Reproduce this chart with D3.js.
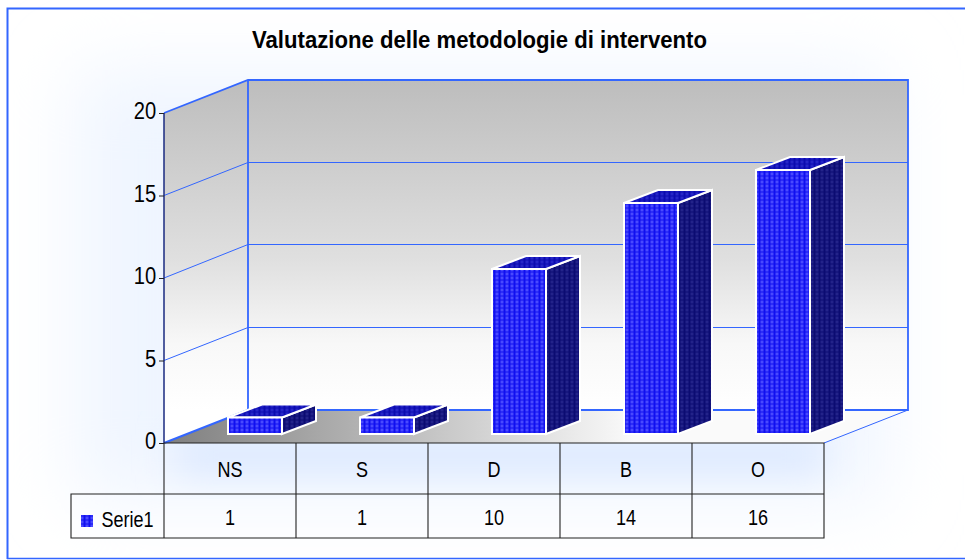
<!DOCTYPE html>
<html><head><meta charset="utf-8">
<script src="https://cdn.jsdelivr.net/npm/d3@7/dist/d3.min.js"></script>
<style>html,body{margin:0;padding:0;background:#fff}svg{display:block}text{font-family:"Liberation Sans",Arial,sans-serif;fill:#000}</style>
</head><body><svg id="c" width="965" height="560"></svg>
<script>
const categories = ["NS","S","D","B","O"];
const values = [1,1,10,14,16];
const seriesName = "Serie1";
const yTicks = [0,5,10,15,20];
const chartTitle = "Valutazione delle metodologie di intervento";

const svg = d3.select("#c");
const defs = svg.append("defs");
const BLUE = "#3366ff";

// layout
const x0=164, x1=824, yBase=443, yTop=113;   // front plane of the plot
const dx=84, dy=-33;                          // wall depth
const barOffX=25, barOffY=-9, barDX=34, barDY=-13; // bar placement in depth
const y = d3.scaleLinear().domain([0,20]).range([yBase,yTop]);
const x = d3.scaleBand().domain(categories).range([x0,x1]);
const barW = 54;

// defs
function blurF(id,sd){
  const b=defs.append("filter").attr("id",id).attr("x","-30%").attr("y","-60%").attr("width","160%").attr("height","220%");
  b.append("feGaussianBlur").attr("stdDeviation",sd);
}
blurF("blurWide",38); blurF("blurNear",18);
function lin(id,x1_,y1_,x2_,y2_,stops){
  const g=defs.append("linearGradient").attr("id",id).attr("gradientUnits","userSpaceOnUse")
    .attr("x1",x1_).attr("y1",y1_).attr("x2",x2_).attr("y2",y2_);
  stops.forEach(s=>g.append("stop").attr("offset",s[0]).attr("stop-color",s[1]));
}
lin("wall",0,yTop+dy,0,yBase+dy,[[0,"#bdbdbd"],[0.55,"#e0e0e0"],[0.8,"#f8f8f8"],[1,"#ffffff"]]);
lin("floor",x0,0,x0+470,0,[[0,"#7f7f7f"],[1,"#fafafa"]]);
function pat(id,base,dot){
  const p=defs.append("pattern").attr("id",id).attr("patternUnits","userSpaceOnUse").attr("width",5).attr("height",4);
  p.append("rect").attr("width",5).attr("height",4).attr("fill",base);
  p.append("rect").attr("x",0.5).attr("y",0.5).attr("width",3).attr("height",3).attr("fill",dot);
}
pat("front","#1010f0","#4a4aff");
pat("side","#0b0b72","#23238a");
pat("top","#0b0bb0","#2626c8");

const line = d3.line();
const poly = pts => line(pts)+"Z";

// background
svg.append("rect").attr("x",0).attr("y",0).attr("width",965).attr("height",560).attr("fill","#fff");
svg.append("rect").attr("x",75).attr("y",70).attr("width",810).attr("height",430).attr("fill","#eff5ff").attr("filter","url(#blurWide)");
svg.append("rect").attr("x",175).attr("y",435).attr("width",650).attr("height",40).attr("fill","#dde9ff").attr("filter","url(#blurNear)");
svg.append("path").attr("d","M7.5,559V8.5H965").attr("fill","none").attr("stroke",BLUE).attr("stroke-width",2);
svg.append("path").attr("d","M7,558.5H965").attr("fill","none").attr("stroke",BLUE).attr("stroke-width",1.5);

// title
svg.append("text").attr("x",479.5).attr("y",48).attr("text-anchor","middle")
  .attr("font-weight","bold").attr("font-size",23).attr("textLength",455).attr("lengthAdjust","spacingAndGlyphs").text(chartTitle);

// walls + floor
svg.append("path").attr("d",poly([[x0,yBase],[x0+dx,yBase+dy],[x0+dx,yTop+dy],[x0,yTop]])).attr("fill","url(#wall)");
svg.append("rect").attr("x",x0+dx).attr("y",yTop+dy).attr("width",x1-x0).attr("height",yBase-yTop).attr("fill","url(#wall)");
svg.append("path").attr("d",poly([[x0,yBase],[x1,yBase],[x1+dx,yBase+dy],[x0+dx,yBase+dy]])).attr("fill","url(#floor)");

// gridlines
yTicks.filter(t=>t>0&&t<20).forEach(t=>{
  const back=Math.round(y(t)+dy)-0.5;
  svg.append("path").attr("d",line([[x0,y(t)],[x0+dx,back],[x1+dx,back]])).attr("fill","none").attr("stroke",BLUE).attr("stroke-width",1);
});
// wall frame
svg.append("path").attr("d",line([[x0,yTop],[x0+dx,yTop+dy],[x1+dx,yTop+dy],[x1+dx,yBase+dy],[x0+dx,yBase+dy]])+"M"+(x0+dx)+","+(yTop+dy)+"V"+(yBase+dy))
  .attr("fill","none").attr("stroke",BLUE).attr("stroke-width",1.8);
svg.append("path").attr("d",line([[x0,yBase],[x0+dx,yBase+dy]])).attr("fill","none").attr("stroke",BLUE).attr("stroke-width",2);
svg.append("path").attr("d",line([[x1,yBase],[x1+dx,yBase+dy]])).attr("fill","none").attr("stroke",BLUE).attr("stroke-width",1);

// bars
const bars = svg.append("g").selectAll("g").data(categories.map((c,i)=>({c,v:values[i]}))).join("g");
const bx = d => x(d.c)+x.bandwidth()/2-barW/2+barOffX;
const bt = d => y(d.v)+barOffY;
const bb = yBase+barOffY;
bars.append("path").attr("d",d=>poly([[bx(d)+barW,bb],[bx(d)+barW+barDX,bb+barDY],[bx(d)+barW+barDX,bt(d)+barDY],[bx(d)+barW,bt(d)]]))
  .attr("fill","url(#side)").attr("stroke","#fff").attr("stroke-width",2);
bars.append("path").attr("d",d=>poly([[bx(d),bt(d)],[bx(d)+barW,bt(d)],[bx(d)+barW+barDX,bt(d)+barDY],[bx(d)+barDX,bt(d)+barDY]]))
  .attr("fill","url(#top)").attr("stroke","#fff").attr("stroke-width",2);
bars.append("rect").attr("x",bx).attr("y",bt).attr("width",barW).attr("height",d=>bb-bt(d))
  .attr("fill","url(#front)").attr("stroke","#fff").attr("stroke-width",2);

// y axis
const DARK="#222";
svg.append("path").attr("d",`M${x0},${yTop}V${yBase}`).attr("stroke","#1a2a80").attr("stroke-width",1.5);
const axisG = svg.append("g").attr("transform",`translate(${x0},0)`)
  .call(d3.axisLeft(y).tickValues(yTicks).tickSize(5).tickPadding(1));
axisG.select(".domain").remove();
axisG.selectAll("line").attr("stroke",DARK);
axisG.selectAll("text").attr("font-size",24).attr("font-family",'"Liberation Sans",Arial,sans-serif')
  .attr("fill","#000").attr("transform","translate(-2,-2) scale(0.84,1)").attr("x",-7);

// data table
const rowA=443,rowB=494,rowC=538, legL=71;
const T=svg.append("g").attr("fill","none").attr("stroke",DARK).attr("stroke-width",1.1);
T.append("path").attr("d",`M${x0},${rowA}H${x1}V${rowC}H${legL}V${rowB}H${x1}`);
T.append("path").attr("d",`M${x0},${rowA}V${rowC}`);
categories.forEach((c,i)=>{ if(i>0) T.append("path").attr("d",`M${x(c)},${rowA}V${rowC}`); });
const cell=(tx,ty,s,a)=>svg.append("text").attr("transform",`translate(${tx},${ty}) scale(0.82,1)`).attr("text-anchor",a||"middle").attr("font-size",22).text(s);
categories.forEach((c,i)=>{
  const cx=x(c)+x.bandwidth()/2;
  cell(cx,476.5,c);
  cell(cx,524.5,String(values[i]));
});
svg.append("rect").attr("x",81).attr("y",515).attr("width",12).attr("height",12).attr("fill","url(#front)");
cell(101.5,527,seriesName,"start");
</script></body></html>
